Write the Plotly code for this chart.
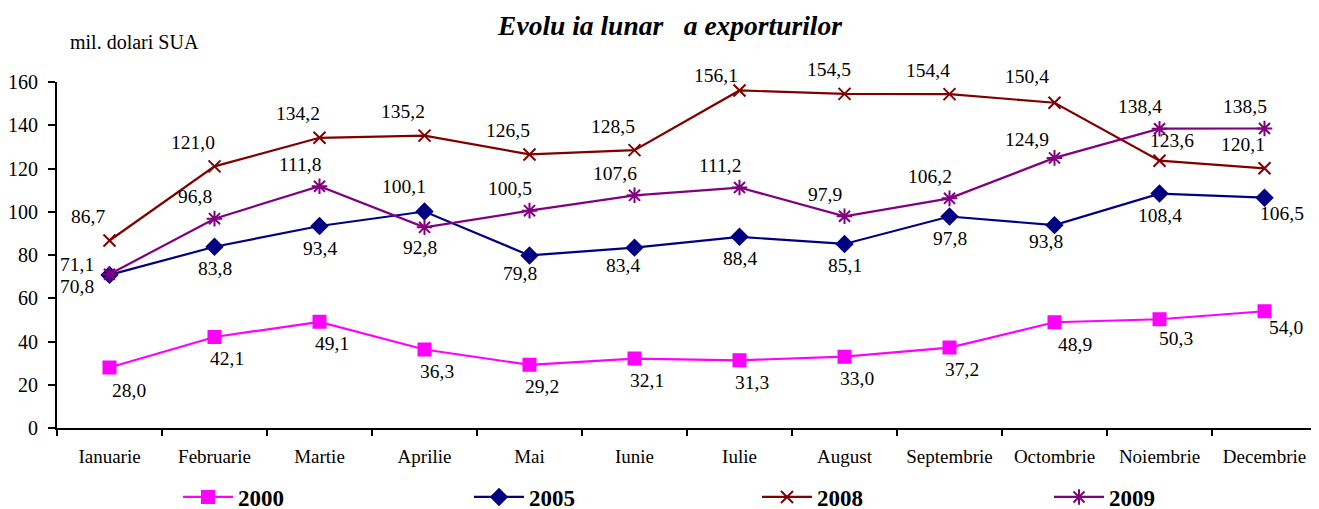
import plotly.graph_objects as go

months = ["Ianuarie", "Februarie", "Martie", "Aprilie", "Mai", "Iunie",
          "Iulie", "August", "Septembrie", "Octombrie", "Noiembrie", "Decembrie"]
years = ["2000", "2005", "2008", "2009"]
v2000 = [28.0, 42.1, 49.1, 36.3, 29.2, 32.1, 31.3, 33.0, 37.2, 48.9, 50.3, 54.0]
v2005 = [70.8, 83.8, 93.4, 100.1, 79.8, 83.4, 88.4, 85.1, 97.8, 93.8, 108.4, 106.5]
v2008 = [86.7, 121.0, 134.2, 135.2, 126.5, 128.5, 156.1, 154.5, 154.4, 150.4, 123.6, 120.1]
v2009 = [71.1, 96.8, 111.8, 92.8, 100.5, 107.6, 111.2, 97.9, 106.2, 124.9, 138.4, 138.5]
y_ticks = [0, 20, 40, 60, 80, 100, 120, 140, 160]

FONT = "Liberation Serif"

styles = {
    "2000": dict(color="#FF00FF", symbol="square", size=12),
    "2005": dict(color="#000080", symbol="diamond", size=12),
    "2008": dict(color="#800000", symbol="x-thin-open", size=12),
    "2009": dict(color="#800080", symbol="asterisk-open", size=13),
}
# label offsets in screen pixels (dx right, dy down): default and per-month overrides
label_default = {"2000": (12, 22), "2005": (0, 22), "2008": (-22, -24), "2009": (-20, -22)}
label_override = {
    "2000": {0: (19, 23), 9: (20, 22), 10: (16, 19), 11: (21, 16)},
    "2005": {0: (-33, 12), 3: (-21, -25), 4: (-10, 18), 5: (-12, 18), 9: (-9, 16), 11: (17, 16)},
    "2008": {6: (-24, -15), 7: (-16, -24), 9: (-28, -26), 10: (12, -20)},
    "2009": {0: (-33, -10), 3: (-5, 20), 9: (-28, -18)},
}
# the page body adds an 8px offset; all pixel positions below are in figure coordinates
legend_left_px = {"2000": 170, "2005": 461, "2008": 749, "2009": 1041}

series = {"2000": v2000, "2005": v2005, "2008": v2008, "2009": v2009}

W, H = 1319, 509
ml, mt = 49, 74
plot_right, plot_bottom = 1309, 420
mr, mb = W - plot_right, H - plot_bottom
pw, ph = W - ml - mr, H - mt - mb

fig = go.Figure()
annotations = []
legend_layout = {}
for k, yr in enumerate(years):
    st = styles[yr]
    vals = series[yr]
    lname = "legend" if k == 0 else f"legend{k + 1}"
    fig.add_trace(go.Scatter(
        x=months, y=vals, mode="lines+markers", name=yr, legend=lname,
        line=dict(color=st["color"], width=2.2),
        marker=dict(symbol=st["symbol"], size=st["size"], color=st["color"],
                    line=dict(color=st["color"], width=2)),
    ))
    legend_layout[lname] = dict(
        x=(legend_left_px[yr] - ml) / pw, xanchor="left",
        y=(plot_bottom - 489) / ph, yanchor="middle",
        orientation="h", bgcolor="rgba(0,0,0,0)", itemwidth=50,
        font=dict(family=FONT, size=23, color="black", weight="bold"),
    )
    for i, v in enumerate(vals):
        dx, dy = label_override[yr].get(i, label_default[yr])
        annotations.append(dict(
            x=months[i], y=v, xref="x", yref="y",
            text=f"{v:.1f}".replace(".", ","), showarrow=False,
            xshift=dx, yshift=-dy,
            font=dict(family=FONT, size=19.5, color="black"),
        ))

annotations.append(dict(
    x=(60 - ml) / pw, y=(plot_bottom - 34) / ph, xref="paper", yref="paper",
    text="mil. dolari SUA", showarrow=False,
    font=dict(family=FONT, size=20, color="black"), xanchor="left", yanchor="middle",
))

fig.update_layout(
    width=W, height=H,
    margin=dict(l=ml, r=mr, t=mt, b=mb, autoexpand=False),
    paper_bgcolor="white", plot_bgcolor="white",
    font=dict(family=FONT, size=19, color="black"),
    title=dict(text="<b><i>Evolu\u00a0ia lunar\u00a0\u00a0\u00a0a exporturilor</i></b>",
               x=662 / W, xref="container", xanchor="center",
               y=1 - 17 / H, yref="container", yanchor="middle",
               font=dict(family=FONT, size=27.5, color="black")),
    xaxis=dict(type="category", range=[-0.5, 11.5], tickson="boundaries",
               showline=True, linecolor="black", linewidth=2,
               ticks="outside", ticklen=6, tickwidth=2, tickcolor="black",
               showgrid=False, zeroline=False, ticklabelstandoff=10,
               tickfont=dict(family=FONT, size=19, color="black")),
    yaxis=dict(range=[0, 160], tickvals=y_ticks, ticktext=[str(t) for t in y_ticks],
               showline=True, linecolor="black", linewidth=2,
               ticks="outside", ticklen=7, tickwidth=2, tickcolor="black",
               showgrid=False, zeroline=False, ticklabelstandoff=6,
               tickfont=dict(family=FONT, size=20, color="black")),
    annotations=annotations,
    showlegend=True,
    **legend_layout,
)

fig.write_html("out.html", config={"displayModeBar": False})
